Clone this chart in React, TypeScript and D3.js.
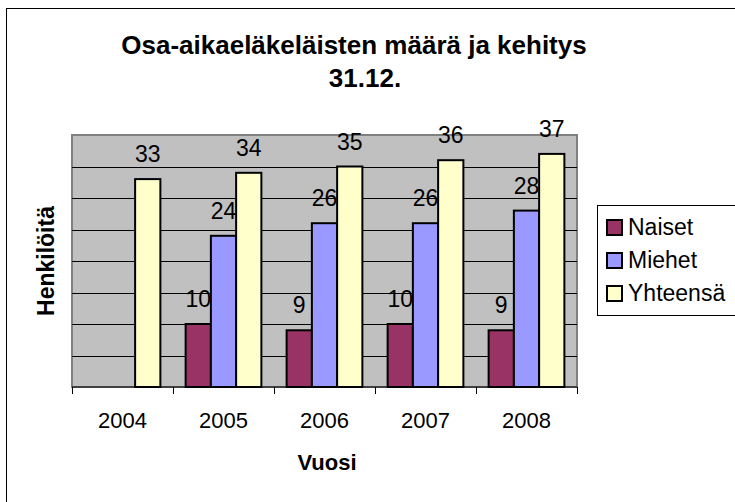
import React from 'react';
import { scaleBand, scaleLinear, range } from 'd3';

const years = ['2004', '2005', '2006', '2007', '2008'];
const seriesNames = ['Naiset', 'Miehet', 'Yhteensä'];
const seriesColors = ['#993366', '#9999FF', '#FFFFCC'];
const naiset = [null, 10, 9, 10, 9];
const miehet = [null, 24, 26, 26, 28];
const yhteensa = [33, 34, 35, 36, 37];
const yTicks = [0, 5, 10, 15, 20, 25, 30, 35, 40];

const font = '"Liberation Sans", Arial, sans-serif';

function App() {
  const width = 735;
  const height = 502;
  const plot = { left: 72, right: 577, top: 135, bottom: 387 };

  const x = scaleBand().domain(years).range([plot.left, plot.right]);
  const y = scaleLinear().domain([0, 40]).range([plot.bottom, plot.top]);
  const bw = x.bandwidth();
  const barW = bw / 4;
  const inner = scaleBand().domain(seriesNames).range([bw / 8, bw - bw / 8]);

  const values = [naiset, miehet, yhteensa];

  return (
    <svg width={width} height={height} style={{ position: 'absolute', left: 0, top: 0, background: '#fff' }}>
      {/* chart area border */}
      <rect x={6.5} y={8.5} width={745} height={510} fill="#fff" stroke="#000" strokeWidth={1} />

      {/* title */}
      <text x={354} y={54} textAnchor="middle" fontFamily={font} fontWeight="bold" fontSize={26}>
        Osa-aikaeläkeläisten määrä ja kehitys
      </text>
      <text x={365} y={87} textAnchor="middle" fontFamily={font} fontWeight="bold" fontSize={26}>
        31.12.
      </text>

      {/* plot area */}
      <rect x={plot.left} y={plot.top} width={plot.right - plot.left} height={plot.bottom - plot.top}
        fill="#C0C0C0" stroke="#808080" strokeWidth={2} />
      {yTicks.slice(1, -1).map(t => (
        <line key={t} x1={plot.left} x2={plot.right} y1={Math.round(y(t)) + 0.5} y2={Math.round(y(t)) + 0.5}
          stroke="#000" strokeWidth={1} />
      ))}

      {/* bars */}
      {values.map((vals, si) => (
        <g key={seriesNames[si]}>
          {years.map((yr, i) => {
            const v = vals[i];
            if (v == null) return null;
            const bx = (x(yr) as number) + (inner(seriesNames[si]) as number);
            return (
              <g key={yr}>
                <rect x={bx} y={y(v)} width={barW} height={plot.bottom - y(v)}
                  fill={seriesColors[si]} stroke="#000" strokeWidth={2} />
                <text x={bx + barW / 2} y={y(v) - 17} textAnchor="middle" fontFamily={font} fontSize={23}>
                  {v}
                </text>
              </g>
            );
          })}
        </g>
      ))}

      {/* x axis */}
      <line x1={plot.left} x2={plot.right} y1={plot.bottom} y2={plot.bottom} stroke="#000" strokeWidth={1} />
      {range(years.length + 1).map(i => {
        const tx = Math.round(plot.left + i * bw) + 0.5;
        return <line key={i} x1={tx} x2={tx} y1={plot.bottom} y2={plot.bottom + 7} stroke="#000" strokeWidth={1} />;
      })}
      {years.map(yr => (
        <text key={yr} x={(x(yr) as number) + bw / 2} y={428} textAnchor="middle" fontFamily={font} fontSize={22}>
          {yr}
        </text>
      ))}

      {/* axis titles */}
      <text x={327} y={470} textAnchor="middle" fontFamily={font} fontWeight="bold" fontSize={22}>
        Vuosi
      </text>
      <text transform={`translate(54, 261) rotate(-90)`} textAnchor="middle" fontFamily={font} fontWeight="bold" fontSize={23}>
        Henkilöitä
      </text>

      {/* legend */}
      <rect x={597.5} y={205.5} width={150} height={110} fill="#fff" stroke="#000" strokeWidth={1} />
      {seriesNames.map((name, i) => (
        <g key={name} transform={`translate(607, ${227 + i * 33})`}>
          <rect x={0} y={-7} width={15} height={15} fill={seriesColors[i]} stroke="#000" strokeWidth={2} />
          <text x={21} y={8} fontFamily={font} fontSize={23}>{name}</text>
        </g>
      ))}
    </svg>
  );
}

export default App;
